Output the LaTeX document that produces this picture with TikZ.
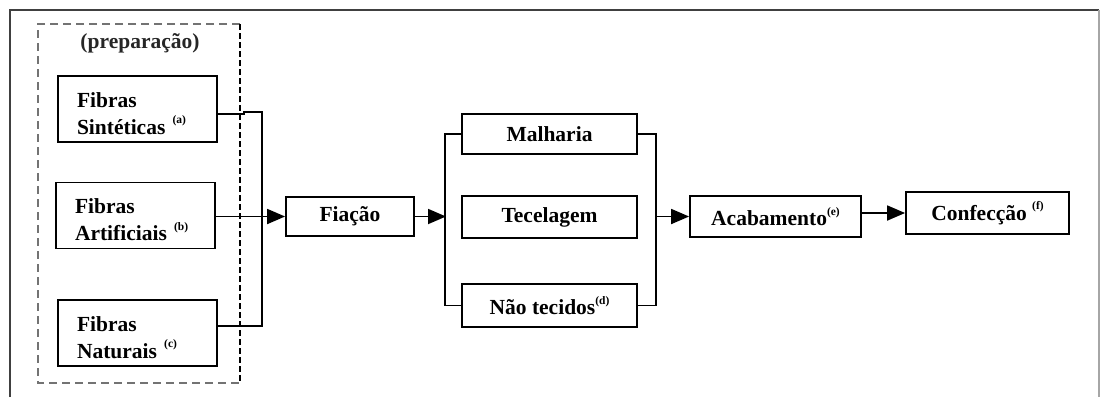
\documentclass[tikz,border=0pt]{standalone}
\usepackage{fontspec}
\setmainfont{Liberation Serif}
\usetikzlibrary{arrows.meta}
\tikzset{
  box/.style={draw=black, line width=1.8pt, rectangle, inner sep=0pt, font=\fontsize{21.5}{27}\selectfont\bfseries},
  fib/.style={box, minimum width=159pt, minimum height=66pt, align=left, text width=121pt},
  wire/.style={draw=black, line width=1.8pt},
  arr/.style={wire, -{Triangle[length=18pt,width=15pt]}}
}
\newcommand{\supx}[1]{\raisebox{0.5em}{\fontsize{11.5}{11.5}\selectfont\bfseries(#1)}}
\newcommand{\topstrut}{\rule{0pt}{24pt}}
\begin{document}
\begin{tikzpicture}[x=1pt,y=-1pt]
\useasboundingbox (0,0) rectangle (1100,397);
% outer frame
\draw[line width=1.8pt, black!75] (10,397) -- (10,10) -- (1099,10);
\draw[line width=1.2pt, black!35] (1099,10) -- (1099,397);
% preparation group
\draw[line width=1.5pt, black!55, dash pattern=on 8pt off 5pt] (240,24) -- (38,24) -- (38,383) -- (240,383);
\draw[line width=2.8pt, black, dash pattern=on 5.5pt off 3.5pt] (240,24) -- (240,383);
\node[font=\fontsize{21.5}{27}\selectfont\bfseries, text=black!85] (prep) at (140,43) {(preparação)};
% source boxes
\node[fib] (sint) at (137.5,109) {\topstrut Fibras\\Sintéticas \supx{a}};
\node[fib] (art) at (135.5,215.5) {\topstrut Fibras\\Artificiais \supx{b}};
\node[fib] (nat) at (137.5,333) {\topstrut Fibras\\Naturais \supx{c}};
% main boxes
\node[box, minimum width=128pt, minimum height=39pt] (fia) at (350,216.5) {Fiação};
\node[box, minimum width=175pt, minimum height=40pt] (mal) at (549.5,134) {Malharia};
\node[box, minimum width=175pt, minimum height=42pt] (tec) at (549.5,217) {Tecelagem};
\node[box, minimum width=175pt, minimum height=43pt] (nao) at (549.5,305.5) {Não tecidos\supx{d}};
\node[box, minimum width=171pt, minimum height=41pt] (aca) at (775.5,216.5) {Acabamento\supx{e}};
\node[box, minimum width=163pt, minimum height=42pt] (conf) at (987.5,213) {Confecção \supx{f}};
% buses
\coordinate (bl) at (446,216.5);
\coordinate (br) at (655,216.5);
\draw[wire] ([yshift=-5pt]sint.east) -- ++(26,0) -- ++(0,-2) -- ++(18,0) |- ([yshift=7pt]nat.east);
\draw[arr] (art.east |- fia.west) -- (fia.west);
\draw[arr] (fia.east) -- (bl);
\draw[wire] (mal.west) -- ++(-16,0) |- (nao.west);
\draw[wire] (mal.east) -- ++(18,0) |- (nao.east);
\draw[arr] (br) -- (aca.west);
\draw[arr] (aca.east |- conf.west) -- (conf.west);
\end{tikzpicture}
\end{document}
